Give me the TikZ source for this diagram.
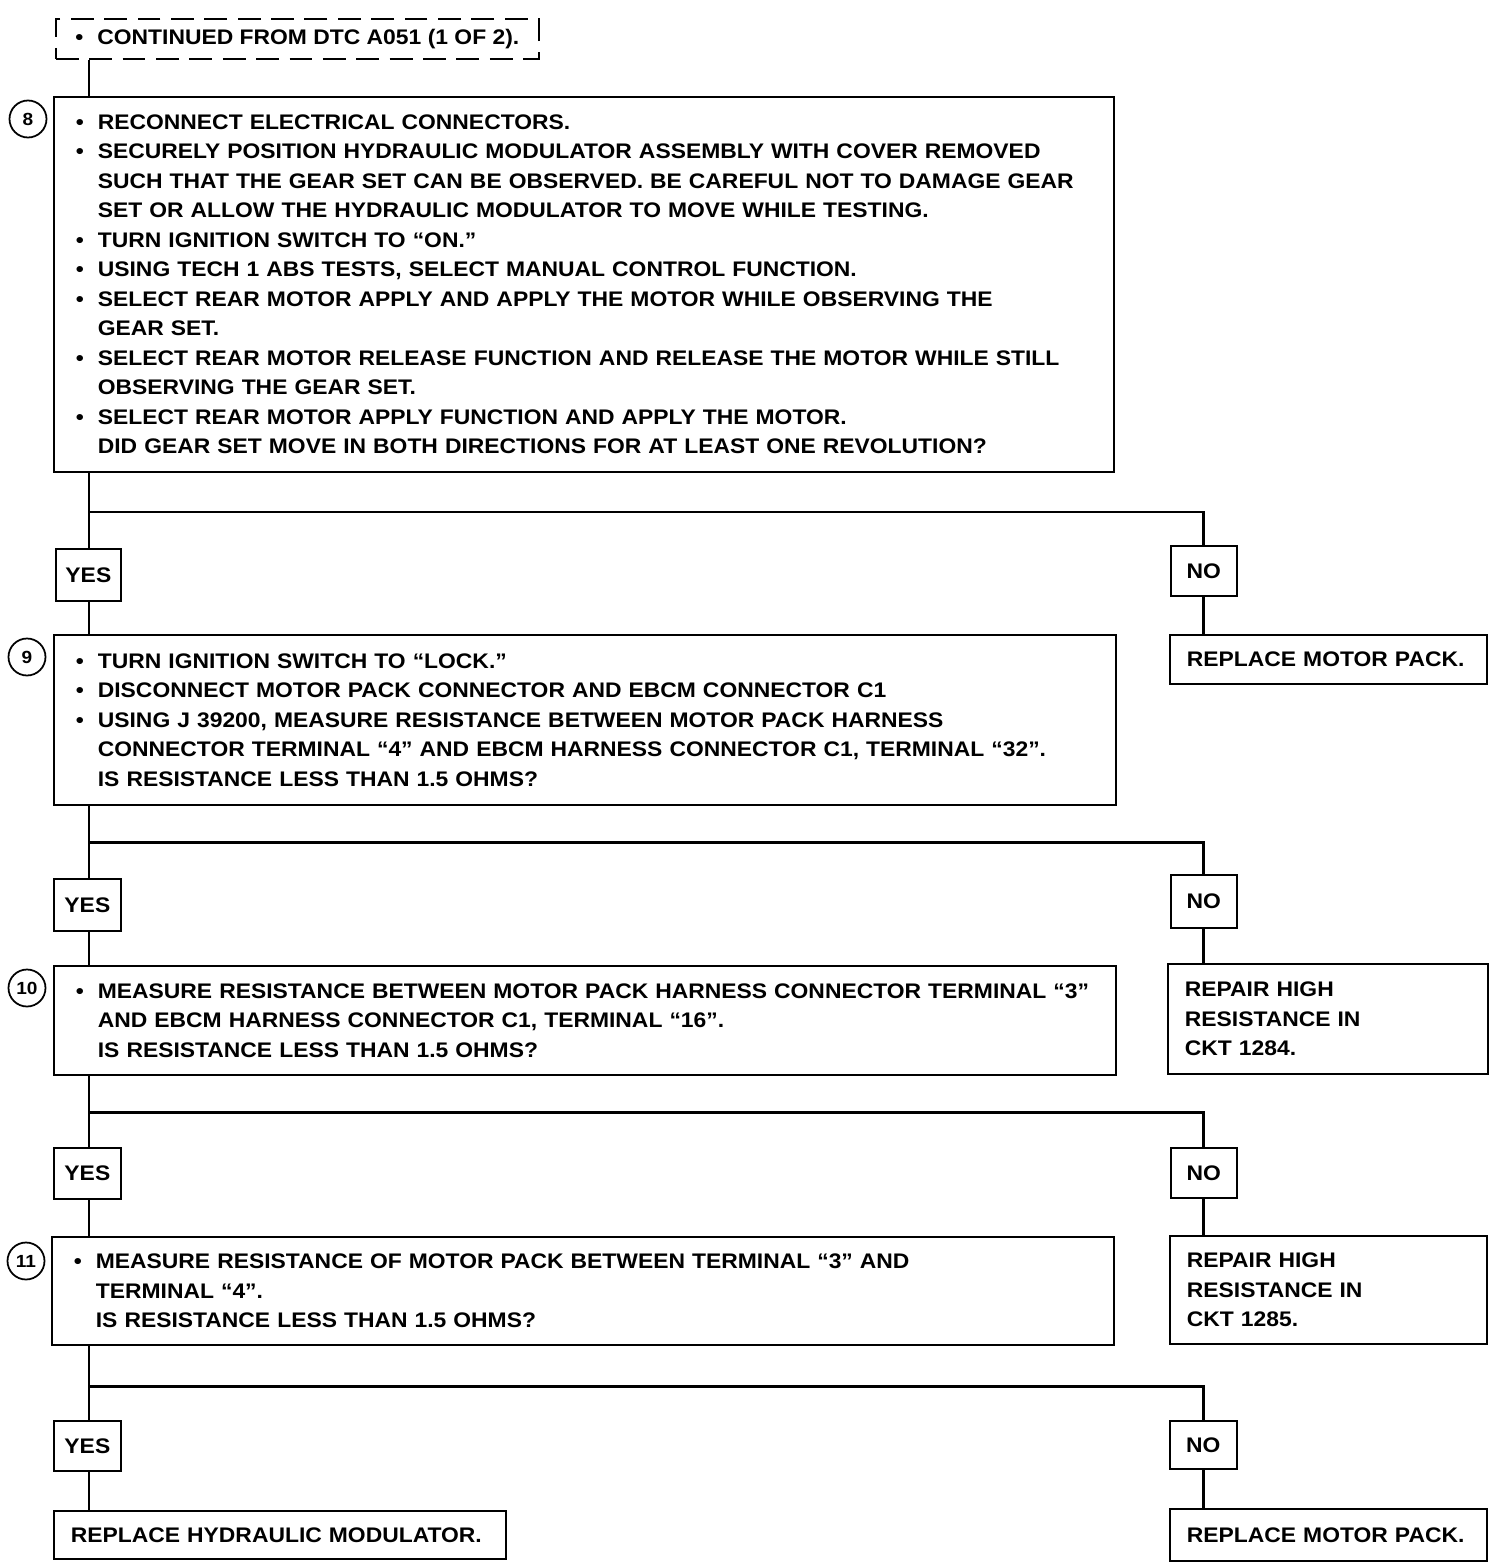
\documentclass[tikz,border=0pt]{standalone}
\usepackage{fontspec}
\setmainfont[FakeStretch=1.085]{Liberation Sans}
\usepackage{tikz}
\usetikzlibrary{arrows.meta,positioning,calc}
\newcommand{\bul}{\makebox[0.44cm][l]{\textbullet}}
\newcommand{\ind}{\hspace*{0.44cm}}
\tikzset{
  stepbox/.style={draw,line width=1pt,anchor=north west,align=left,inner xsep=0.44cm,inner ysep=0pt,
    font=\bfseries\fontsize{12}{16.8}\selectfont},
  contbox/.style={draw,line width=1pt,anchor=north west,inner sep=0pt,dash pattern=on 13pt off 6pt,
    font=\bfseries\fontsize{12}{16.8}\selectfont},
  endbox/.style={stepbox,inner xsep=0.34cm},
  ansbox/.style={draw,line width=1pt,anchor=north west,inner sep=0pt,font=\bfseries\fontsize{12}{14}\selectfont},
  stepnum/.style={circle,draw,line width=1pt,minimum size=0.74cm,inner sep=0pt,font=\bfseries\fontsize{10}{11}\selectfont},
  flow/.style={line width=1.7pt}
}
\begin{document}
\begin{tikzpicture}[x=0.02cm,y=-0.02cm]
  \useasboundingbox (0,0) rectangle (1504,1568);
  % step 8
  \node[contbox,minimum width=9.66cm,minimum height=0.8cm] (cont) at (55,18) {\bul CONTINUED FROM DTC A051 (1 OF 2).};
  \node[stepbox,text width=20.32cm,minimum height=7.5cm] (box8) at (53,96) {%
    \bul RECONNECT ELECTRICAL CONNECTORS.\\
    \bul SECURELY POSITION HYDRAULIC MODULATOR ASSEMBLY WITH COVER REMOVED\\
    \ind SUCH THAT THE GEAR SET CAN BE OBSERVED. BE CAREFUL NOT TO DAMAGE GEAR\\
    \ind SET OR ALLOW THE HYDRAULIC MODULATOR TO MOVE WHILE TESTING.\\
    \bul TURN IGNITION SWITCH TO ``ON.''\\
    \bul USING TECH 1 ABS TESTS, SELECT MANUAL CONTROL FUNCTION.\\
    \bul SELECT REAR MOTOR APPLY AND APPLY THE MOTOR WHILE OBSERVING THE\\
    \ind GEAR SET.\\
    \bul SELECT REAR MOTOR RELEASE FUNCTION AND RELEASE THE MOTOR WHILE STILL\\
    \ind OBSERVING THE GEAR SET.\\
    \bul SELECT REAR MOTOR APPLY FUNCTION AND APPLY THE MOTOR.\\
    \ind DID GEAR SET MOVE IN BOTH DIRECTIONS FOR AT LEAST ONE REVOLUTION?};
  \node[stepnum] (n8) at (28,119) {8};
  \node[ansbox,minimum width=1.3cm,minimum height=1.04cm] (yes8) at (55,548) {YES};
  \node[ansbox,minimum width=1.32cm,minimum height=1cm] (no8) at (1170,545) {NO};
  \node[endbox,text width=5.66cm,minimum height=0.98cm] (res8) at (1169,634) {REPLACE MOTOR PACK.};
  % step 9
  \node[stepbox,text width=20.36cm,minimum height=3.4cm] (box9) at (53,634) {%
    \bul TURN IGNITION SWITCH TO ``LOCK.''\\
    \bul DISCONNECT MOTOR PACK CONNECTOR AND EBCM CONNECTOR C1\\
    \bul USING J 39200, MEASURE RESISTANCE BETWEEN MOTOR PACK HARNESS\\
    \ind CONNECTOR TERMINAL ``4'' AND EBCM HARNESS CONNECTOR C1, TERMINAL ``32''.\\
    \ind IS RESISTANCE LESS THAN 1.5 OHMS?};
  \node[stepnum] (n9) at (27,657) {9};
  \node[ansbox,minimum width=1.34cm,minimum height=1.04cm] (yes9) at (53,878) {YES};
  \node[ansbox,minimum width=1.32cm,minimum height=1.06cm] (no9) at (1170,874) {NO};
  \node[endbox,text width=5.72cm,minimum height=2.2cm] (res9) at (1167,963) {REPAIR HIGH\\RESISTANCE IN\\CKT 1284.};
  % step 10
  \node[stepbox,text width=20.36cm,minimum height=2.18cm] (box10) at (53,965) {%
    \bul MEASURE RESISTANCE BETWEEN MOTOR PACK HARNESS CONNECTOR TERMINAL ``3''\\
    \ind AND EBCM HARNESS CONNECTOR C1, TERMINAL ``16''.\\
    \ind IS RESISTANCE LESS THAN 1.5 OHMS?};
  \node[stepnum] (n10) at (27,988) {10};
  \node[ansbox,minimum width=1.34cm,minimum height=1.02cm] (yes10) at (53,1147) {YES};
  \node[ansbox,minimum width=1.32cm,minimum height=1cm] (no10) at (1170,1147) {NO};
  \node[endbox,text width=5.66cm,minimum height=2.16cm] (res10) at (1169,1235) {REPAIR HIGH\\RESISTANCE IN\\CKT 1285.};
  % step 11
  \node[stepbox,text width=20.36cm,minimum height=2.16cm] (box11) at (51,1236) {%
    \bul MEASURE RESISTANCE OF MOTOR PACK BETWEEN TERMINAL ``3'' AND\\
    \ind TERMINAL ``4''.\\
    \ind IS RESISTANCE LESS THAN 1.5 OHMS?};
  \node[stepnum] (n11) at (26,1261) {11};
  \node[ansbox,minimum width=1.34cm,minimum height=1cm] (yes11) at (53,1420) {YES};
  \node[ansbox,minimum width=1.34cm,minimum height=0.96cm] (no11) at (1169,1420) {NO};
  \node[endbox,text width=8.36cm,minimum height=0.96cm] (resy) at (53,1510) {REPLACE HYDRAULIC MODULATOR.};
  \node[endbox,text width=5.66cm,minimum height=1.04cm] (resn) at (1169,1508) {REPLACE MOTOR PACK.};
  % branch points
  \coordinate (j8) at (89,512);
  \coordinate (j9) at (89,842);
  \coordinate (j10) at (89,1112);
  \coordinate (j11) at (89,1386);
  % connectors
  \draw[flow] (cont.south -| j8) -- (box8.north -| j8);
  \draw[flow] (box8.south -| j8) -- (yes8.north -| j8);
  \draw[flow] (j8) -| (no8.north);
  \draw[flow] (yes8.south -| j8) -- (box9.north -| j8);
  \draw[flow] (no8) -- (res8.north -| no8);
  \draw[flow] (box9.south -| j9) -- (yes9.north -| j9);
  \draw[flow] (j9) -| (no9.north);
  \draw[flow] (yes9.south -| j9) -- (box10.north -| j9);
  \draw[flow] (no9) -- (res9.north -| no9);
  \draw[flow] (box10.south -| j10) -- (yes10.north -| j10);
  \draw[flow] (j10) -| (no10.north);
  \draw[flow] (yes10.south -| j10) -- (box11.north -| j10);
  \draw[flow] (no10) -- (res10.north -| no10);
  \draw[flow] (box11.south -| j11) -- (yes11.north -| j11);
  \draw[flow] (j11) -| (no11.north);
  \draw[flow] (yes11.south -| j11) -- (resy.north -| j11);
  \draw[flow] (no11) -- (resn.north -| no11);
\end{tikzpicture}
\end{document}
